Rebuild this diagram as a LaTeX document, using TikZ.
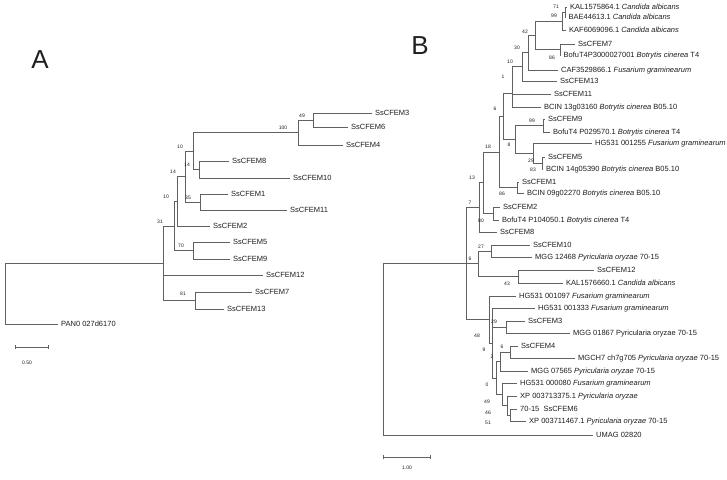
\documentclass[tikz,border=0pt]{standalone}
\usepackage{fontspec}
\setmainfont{Liberation Sans}
\usetikzlibrary{arrows.meta}
\definecolor{linec}{gray}{0.38}
\definecolor{txtc}{gray}{0.12}
\begin{document}
\begin{tikzpicture}[x=1pt,y=-1pt,
  br/.style={draw=linec, line width=0.7pt},
  leaf/.style={anchor=west, inner xsep=3pt, inner ysep=0pt, text height=5.4pt, text depth=0pt, font=\fontsize{7.5}{9}\selectfont, text=txtc},
  bs/.style={inner sep=0pt, font=\fontsize{5}{6}\selectfont, text=txtc},
  panel/.style={inner sep=0pt, font=\fontsize{26}{30}\selectfont, text=txtc},
  sbar/.style={draw=linec, line width=0.7pt, {Bar[width=4pt]}-{Bar[width=4pt]}}]
\useasboundingbox[fill=white] (0,0) rectangle (727,479);

\node[panel] (lblA) at (40,60) {A};
\node[panel] (lblB) at (420,46) {B};

% ---------------- Tree A ----------------
\coordinate (rA) at (5,263.2);
\coordinate (tA) at (163,263.2);
\coordinate (a31) at (174,225.9);
\coordinate (a10c) at (177,201.25);
\coordinate (a14) at (185,176.5);
\coordinate (a10b) at (193,151);
\coordinate (a100) at (298,132.5);
\coordinate (a49) at (313,120);
\coordinate (a14b) at (199,169.5);
\coordinate (a35) at (200,202);
\coordinate (a70) at (193,250.5);
\coordinate (a81) at (195,300.5);

\node[leaf] (aL3) at (372,113) {SsCFEM3};
\node[leaf] (aL6) at (348,127) {SsCFEM6};
\node[leaf] (aL4) at (343,145) {SsCFEM4};
\node[leaf] (aL8) at (229,161) {SsCFEM8};
\node[leaf] (aL10) at (290,178) {SsCFEM10};
\node[leaf] (aL1) at (228,194) {SsCFEM1};
\node[leaf] (aL11) at (287,210) {SsCFEM11};
\node[leaf] (aL2) at (210,226) {SsCFEM2};
\node[leaf] (aL5) at (230,242) {SsCFEM5};
\node[leaf] (aL9) at (230,259) {SsCFEM9};
\node[leaf] (aL12) at (263,275) {SsCFEM12};
\node[leaf] (aL7) at (252,292) {SsCFEM7};
\node[leaf] (aL13) at (224,309) {SsCFEM13};
\node[leaf] (aPan) at (58,324) {PAN0 027d6170};

\draw[br] (rA) |- (tA) (rA) |- (aPan);
\draw[br] (tA) |- (a31) (tA) |- (aL12) (tA) |- (a81);
\draw[br] (a31) |- (a10c) (a31) |- (a70);
\draw[br] (a10c) |- (a14) (a10c) |- (aL2);
\draw[br] (a14) |- (a10b) (a14) |- (a35);
\draw[br] (a10b) |- (a100) (a10b) |- (a14b);
\draw[br] (a100) |- (a49) (a100) |- (aL4);
\draw[br] (a49) |- (aL3) (a49) |- (aL6);
\draw[br] (a14b) |- (aL8) (a14b) |- (aL10);
\draw[br] (a35) |- (aL1) (a35) |- (aL11);
\draw[br] (a70) |- (aL5) (a70) |- (aL9);
\draw[br] (a81) |- (aL7) (a81) |- (aL13);

\node[bs] (bA49) at (302,116) {49};
\node[bs] (bA100) at (283,128) {100};
\node[bs] (bA10b) at (180,147) {10};
\node[bs] (bA14b) at (187,165) {14};
\node[bs] (bA14) at (173,172) {14};
\node[bs] (bA35) at (188,198) {35};
\node[bs] (bA10c) at (166,197) {10};
\node[bs] (bA31) at (160,222) {31};
\node[bs] (bA70) at (181,246) {70};
\node[bs] (bA81) at (183,294) {81};

\coordinate (sA1) at (15,347);
\coordinate (sA2) at (49,347);
\draw[sbar] (sA1) -- (sA2);
\node[bs] (sAl) at (27,363) {0.50};

% ---------------- Tree B ----------------
\coordinate (rB) at (383,263.5);
\coordinate (nB) at (466,263.5);
\coordinate (b7) at (479,207.4);
\coordinate (b13) at (483,182.75);
\coordinate (b18) at (499,152);
\coordinate (b6b) at (503,116.5);
\coordinate (bx) at (512,93.7);
\coordinate (b1) at (512,80.4);
\coordinate (b10) at (522,66.8);
\coordinate (b30) at (528,52.6);
\coordinate (b42) at (535,35.25);
\coordinate (b99) at (562,21);
\coordinate (b71) at (565,12);
\coordinate (b86) at (560,49.5);
\coordinate (b8) at (515,139.25);
\coordinate (b99b) at (543,125.5);
\coordinate (b29) at (533,153);
\coordinate (b83) at (542,163);
\coordinate (b86b) at (517,187.5);
\coordinate (b80) at (493,213.5);
\coordinate (b6c) at (478,263.5);
\coordinate (b27) at (491,251);
\coordinate (b43) at (518,276.5);
\coordinate (b48) at (489,319.5);
\coordinate (b9) at (492,343);
\coordinate (b29c) at (506,327);
\coordinate (b0) at (496,377.9);
\coordinate (b2) at (500,361.5);
\coordinate (b6d) at (510,352);
\coordinate (b49) at (502,394.25);
\coordinate (b46) at (507,405.5);
\coordinate (b51) at (510,415);

\node[leaf] (L1) at (567,7) {KAL1575864.1 \textit{Candida albicans}};
\node[leaf] (L2) at (565.5,17) {BAE44613.1 \textit{Candida albicans}};
\node[leaf] (L3) at (566,30) {KAF6069096.1 \textit{Candida albicans}};
\node[leaf] (L4) at (575,44) {SsCFEM7};
\node[leaf] (L5) at (560.5,55) {BofuT4P3000027001 \textit{Botrytis cinerea} T4};
\node[leaf] (L6) at (558,70) {CAF3529866.1 \textit{Fusarium graminearum}};
\node[leaf] (L7) at (557,81) {SsCFEM13};
\node[leaf] (L8) at (551,94) {SsCFEM11};
\node[leaf] (L9) at (541,107) {BCIN 13g03160 \textit{Botrytis cinerea} B05.10};
\node[leaf] (L10) at (545,119) {SsCFEM9};
\node[leaf] (L11) at (550,132) {BofuT4 P029570.1 \textit{Botrytis cinerea} T4};
\node[leaf] (L12) at (592,143) {HG531 001255 \textit{Fusarium graminearum}};
\node[leaf] (L13) at (545,157) {SsCFEM5};
\node[leaf] (L14) at (543,169) {BCIN 14g05390 \textit{Botrytis cinerea} B05.10};
\node[leaf] (L15) at (519,182) {SsCFEM1};
\node[leaf] (L16) at (524,193) {BCIN 09g02270 \textit{Botrytis cinerea} B05.10};
\node[leaf] (L17) at (500,207) {SsCFEM2};
\node[leaf] (L18) at (499,220) {BofuT4 P104050.1 \textit{Botrytis cinerea} T4};
\node[leaf] (L19) at (497,232) {SsCFEM8};
\node[leaf] (L20) at (530,245) {SsCFEM10};
\node[leaf] (L21) at (532,257) {MGG 12468 \textit{Pyricularia oryzae} 70-15};
\node[leaf] (L22) at (594,270) {SsCFEM12};
\node[leaf] (L23) at (563,283) {KAL1576660.1 \textit{Candida albicans}};
\node[leaf] (L24) at (516,296) {HG531 001097 \textit{Fusarium graminearum}};
\node[leaf] (L25) at (535,308) {HG531 001333 \textit{Fusarium graminearum}};
\node[leaf] (L26) at (525,321) {SsCFEM3};
\node[leaf] (L27) at (570,333) {MGG 01867 Pyricularia oryzae 70-15};
\node[leaf] (L28) at (518,346) {SsCFEM4};
\node[leaf] (L29) at (575,358) {MGCH7 ch7g705 \textit{Pyricularia oryzae} 70-15};
\node[leaf] (L30) at (528,371) {MGG 07565 \textit{Pyricularia oryzae} 70-15};
\node[leaf] (L31) at (517,383) {HG531 000080 \textit{Fusarium graminearum}};
\node[leaf] (L32) at (517,396) {XP 003713375.1 \textit{Pyricularia oryzae}};
\node[leaf] (L33) at (517,409) {70-15\ \ SsCFEM6};
\node[leaf] (L34) at (526,421) {XP 003711467.1 \textit{Pyricularia oryzae} 70-15};
\node[leaf] (L35) at (593,435) {UMAG 02820};

\draw[br] (rB) |- (nB) (rB) |- (L35);
\draw[br] (nB) |- (b7) (nB) |- (b6c) (nB) |- (b48);
\draw[br] (b7) |- (b13) (b7) |- (L19);
\draw[br] (b13) |- (b18) (b13) |- (b80);
\draw[br] (b80) |- (L17) (b80) |- (L18);
\draw[br] (b18) |- (b6b) (b18) |- (b86b);
\draw[br] (b86b) |- (L15) (b86b) |- (L16);
\draw[br] (b6b) |- (bx) (b6b) |- (b8);
\draw[br] (bx) |- (b1) (bx) |- (L9);
\draw[br] (b1) |- (b10) (b1) |- (L8);
\draw[br] (b10) |- (b30) (b10) |- (L7);
\draw[br] (b30) |- (b42) (b30) |- (L6);
\draw[br] (b42) |- (b99) (b42) |- (b86);
\draw[br] (b99) |- (b71) (b99) |- (L3);
\draw[br] (b71) |- (L1) (b71) |- (L2);
\draw[br] (b86) |- (L4) (b86) |- (L5);
\draw[br] (b8) |- (b99b) (b8) |- (b29);
\draw[br] (b99b) |- (L10) (b99b) |- (L11);
\draw[br] (b29) |- (L12) (b29) |- (b83);
\draw[br] (b83) |- (L13) (b83) |- (L14);
\draw[br] (b6c) |- (b27) (b6c) |- (b43);
\draw[br] (b27) |- (L20) (b27) |- (L21);
\draw[br] (b43) |- (L22) (b43) |- (L23);
\draw[br] (b48) |- (L24) (b48) |- (b9);
\draw[br] (b9) |- (L25) (b9) |- (b29c) (b9) |- (b0);
\draw[br] (b29c) |- (L26) (b29c) |- (L27);
\draw[br] (b0) |- (b2) (b0) |- (b49);
\draw[br] (b2) |- (b6d) (b2) |- (L30);
\draw[br] (b6d) |- (L28) (b6d) |- (L29);
\draw[br] (b49) |- (L31) (b49) |- (b46);
\draw[br] (b46) |- (L32) (b46) |- (b51);
\draw[br] (b51) |- (L33) (b51) |- (L34);

\node[bs] (v71) at (556,7) {71};
\node[bs] (v99) at (554,16) {99};
\node[bs] (v42) at (525,32) {42};
\node[bs] (v30) at (517,48) {30};
\node[bs] (v86) at (552,58) {86};
\node[bs] (v10) at (510,62) {10};
\node[bs] (v1) at (503,77) {1};
\node[bs] (v6b) at (495,109) {6};
\node[bs] (v99b) at (532,121) {99};
\node[bs] (v18) at (488,147) {18};
\node[bs] (v8) at (509,145) {8};
\node[bs] (v29) at (531,161) {29};
\node[bs] (v83) at (533,170) {83};
\node[bs] (v13) at (472,178) {13};
\node[bs] (v86b) at (502,194) {86};
\node[bs] (v7) at (470,203) {7};
\node[bs] (v80) at (481,221) {80};
\node[bs] (v27) at (481,247) {27};
\node[bs] (v6c) at (470,259) {6};
\node[bs] (v43) at (507,284) {43};
\node[bs] (v29c) at (494,322) {29};
\node[bs] (v48) at (477,336) {48};
\node[bs] (v6d) at (502,347) {6};
\node[bs] (v9) at (484,350) {9};
\node[bs] (v2) at (492,357) {2};
\node[bs] (v0) at (487,385) {0};
\node[bs] (v49) at (487,402) {49};
\node[bs] (v46) at (488,413) {46};
\node[bs] (v51) at (488,423) {51};

\coordinate (sB1) at (383,457);
\coordinate (sB2) at (431,457);
\draw[sbar] (sB1) -- (sB2);
\node[bs] (sBl) at (407,468) {1.00};
\end{tikzpicture}
\end{document}
